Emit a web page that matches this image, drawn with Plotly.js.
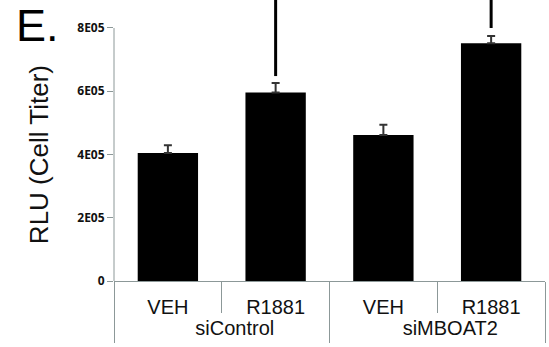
<!DOCTYPE html>
<html>
<head>
<meta charset="utf-8">
<script src="https://cdn.plot.ly/plotly-3.0.1.min.js"></script>
<style>html,body{margin:0;padding:0;background:#fff;}#chart{width:549px;height:347px;}</style>
</head>
<body>
<div id="chart"></div>
<script>
// Data
var groupNames = ["siControl", "siMBOAT2"];
var groups = ["siControl", "siControl", "siMBOAT2", "siMBOAT2"];
var treatments = ["VEH", "R1881", "VEH", "R1881"];
var rlu = [405000, 596000, 462000, 752000];
var rluErr = [24000, 30000, 32000, 23000];
var rluErrBelow = [0, 0, 0, 0];
var tickValues = [0, 200000, 400000, 600000, 800000];
var tickLabels = ["0", "2E05", "4E05", "6E05", "8E05"];
// Significance bracket legs (bracket tops lie above the visible area)
var bracketBars = [1, 3];            // index into treatments
var bracketBottom = [648000, 800000];
var bracketTop = [960000, 960000];

// category slots on the x scale
var slots = treatments.map(function (_, i) { return i; });
var groupCenters = groupNames.map(function (g) {
  var idx = slots.filter(function (i) { return groups[i] === g; });
  return (idx[0] + idx[idx.length - 1]) / 2;
});
var xRange = [-0.5, treatments.length - 0.5];

var axisGrey = "#8c9898";
var traces = [{
  type: "bar",
  x: slots,
  y: rlu,
  marker: {color: "#000000", line: {width: 0}},
  width: 0.56,
  error_y: {type: "data", symmetric: false, array: rluErr, arrayminus: rluErrBelow, visible: true, color: "#333333", thickness: 2, width: 4},
  hoverinfo: "skip"
}];
for (var i = 0; i < bracketBars.length; i++) {
  traces.push({
    type: "scatter", mode: "lines", xaxis: "x2",
    x: [slots[bracketBars[i]], slots[bracketBars[i]]],
    y: [bracketBottom[i], bracketTop[i]],
    line: {color: "#000000", width: 3},
    hoverinfo: "skip"
  });
}

var labelFont = {family: "Liberation Sans, Arial, sans-serif", size: 20, color: "#111111"};
var layout = {
  width: 549, height: 347,
  margin: {l: 114, r: 4, t: 0, b: 66},
  paper_bgcolor: "#ffffff", plot_bgcolor: "#ffffff",
  showlegend: false,
  font: {family: "Liberation Sans, Arial, sans-serif", color: "#111111"},
  xaxis: {
    range: xRange,
    showline: true, linecolor: axisGrey, linewidth: 1,
    showgrid: false, zeroline: false, ticks: "",
    tickmode: "array", tickvals: slots, ticktext: treatments,
    ticklabelstandoff: 8,
    tickfont: labelFont,
    minor: {ticks: "outside", tick0: -0.5, dtick: 1, ticklen: 31, tickcolor: axisGrey, tickwidth: 1, showgrid: false}
  },
  xaxis2: {
    range: xRange, overlaying: "x", side: "bottom", anchor: "y",
    showline: false, showgrid: false, zeroline: false, ticks: "",
    tickmode: "array", tickvals: groupCenters, ticktext: groupNames,
    ticklabelstandoff: 33, ticklabelshift: 13,
    tickfont: labelFont,
    minor: {ticks: "outside", tick0: -0.5, dtick: 2, ticklen: 61, tickcolor: axisGrey, tickwidth: 1, showgrid: false}
  },
  yaxis: {
    range: [0, 888500],
    showline: false, showgrid: false, zeroline: false,
    ticks: "outside", ticklen: 6, tickcolor: axisGrey, tickwidth: 1,
    tickvals: tickValues, ticktext: tickLabels,
    tickfont: {family: "Open Sans, DejaVu Sans, sans-serif", size: 12, color: "#111111", weight: "bold"}
  },
  shapes: [
    {type: "line", xref: "paper", yref: "y", x0: 0, x1: 0, y0: 0, y1: 800000, line: {color: axisGrey, width: 1}}
  ],
  annotations: [{
    text: "E.", xref: "paper", yref: "paper", x: -0.23, y: 1.0, yshift: 1, borderpad: 0,
    xanchor: "left", yanchor: "top", showarrow: false,
    font: {family: "Liberation Sans, Arial, sans-serif", size: 45, color: "#000000"}
  }, {
    text: "RLU (Cell Titer)", xref: "paper", yref: "paper", x: -0.175, y: 0.45,
    xanchor: "center", yanchor: "middle", textangle: -90, showarrow: false,
    font: {family: "Liberation Sans, Arial, sans-serif", size: 26, color: "#111111"}
  }]
};
Plotly.newPlot("chart", traces, layout, {displayModeBar: false, staticPlot: true});
</script>
</body>
</html>
